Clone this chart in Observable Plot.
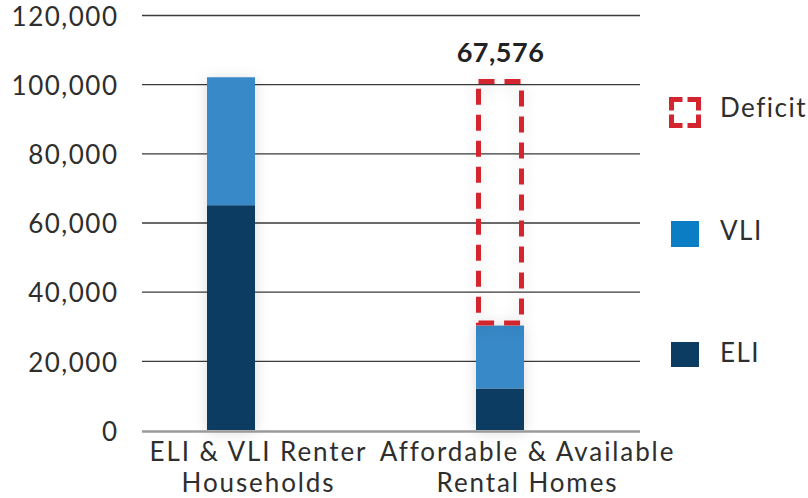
<!DOCTYPE html>
<html>
<head>
<meta charset="utf-8">
<script src="https://cdn.jsdelivr.net/npm/d3@7"></script>
<script src="https://cdn.jsdelivr.net/npm/@observablehq/plot@0.6"></script>
<style>
  html, body { margin: 0; padding: 0; background: #fff; }
  #wrap { position: relative; width: 808px; height: 498px; font-family: Lato, "Noto Sans", sans-serif; }
  .lg { position: absolute; }
  .lgText { position: absolute; font-size: 26px; line-height: 32px; color: #2e2e2e; letter-spacing: 1.5px; white-space: nowrap; }
</style>
</head>
<body>
<div id="wrap"></div>
<script>
// ---- data ----
const categories = ["ELI & VLI Renter\nHouseholds", "Affordable & Available\nRental Homes"];
const groups = ["ELI", "VLI"];
const eliValues = [65000, 12000];
const vliValues = [37000, 18200];
const deficitTop = 101500;
const deficitLabel = "67,576";
const yTicks = [0, 20000, 40000, 60000, 80000, 100000, 120000];
const legendLabels = ["Deficit", "VLI", "ELI"];

// ---- styles ----
const navy = "#0c3c62";
const blue = "#3889c8";
const blueLegend = "#0a7dc4";
const red = "#d4252f";

const rows = categories.flatMap((c, i) => [
  {category: c, group: groups[0], value: eliValues[i]},
  {category: c, group: groups[1], value: vliValues[i]}
]);
const affordTotal = eliValues[1] + vliValues[1];
const deficit = [{category: categories[1], y1: affordTotal, y2: deficitTop}];

const chart = Plot.plot({
  width: 808,
  height: 498,
  marginLeft: 142,
  marginRight: 168,
  marginTop: 15,
  marginBottom: 68,
  style: {fontFamily: "Lato, 'Noto Sans', sans-serif", color: "#2e2e2e", background: "transparent", letterSpacing: "1.5px", overflow: "visible"},
  x: {domain: categories, range: [206, 524], paddingInner: 0.8222, paddingOuter: 0, label: null},
  y: {domain: [0, 120000], label: null},
  color: {domain: groups, range: [navy, blue]},
  marks: [
    Plot.ruleY(yTicks.filter(d => d > 0), {stroke: "#3a3a3a", strokeWidth: 1.3}),
    Plot.barY(rows, {x: "category", y: "value", fill: "group"}),
    Plot.barY(deficit, {x: "category", y1: "y1", y2: "y2", fill: "none", stroke: red, strokeWidth: 5, strokeDasharray: "16,10", inset: 2.5}),
    Plot.ruleY([0], {stroke: "#9a9a9a", strokeWidth: 2.5, dy: 1}),
    Plot.text(deficit, {x: "category", y: "y2", text: () => deficitLabel, dy: -26, fontSize: 27, fontWeight: "bold", fill: "#222", lineAnchor: "middle"}),
    Plot.axisY({ticks: yTicks, tickSize: 0, tickPadding: 24, tickFormat: d3.format(","), fontSize: 26, label: null, dy: 2}),
    Plot.axisX({tickSize: 0, tickPadding: 8, fontSize: 26, lineHeight: 1.2, dx: 27, label: null})
  ]
});

document.getElementById("wrap").appendChild(chart);

// soft shadows around bars
d3.select(chart).selectAll('g[aria-label="bar"]').style("filter", "drop-shadow(0px 2px 7px rgba(0,0,0,0.14))");
d3.select(chart).selectAll('g[aria-label="text"] text').style("letter-spacing", "0.5px");
d3.select(chart).selectAll('g[aria-label="x-axis tick label"] text').style("letter-spacing", "1.9px");

// ---- legend ----
const wrap = d3.select("#wrap");
const lgPos = [
  {swLeft: 669, swTop: 97, swW: 32, swH: 31, textTop: 91},
  {swLeft: 671, swTop: 221, swW: 28, swH: 26, textTop: 214},
  {swLeft: 671, swTop: 342, swW: 28, swH: 25, textTop: 336}
];
legendLabels.forEach((lab, i) => {
  const p = lgPos[i];
  if (i === 0) {
    const s = wrap.append("svg").attr("class", "lg")
      .style("left", p.swLeft + "px").style("top", p.swTop + "px")
      .attr("width", p.swW).attr("height", p.swH);
    const w = p.swW, h = p.swH, t = 2.5, L = 11;
    const path = [
      `M${t},${t + L}V${t}H${t + L}`,
      `M${w - t - L},${t}H${w - t}V${t + L}`,
      `M${w - t},${h - t - L}V${h - t}H${w - t - L}`,
      `M${t + L},${h - t}H${t}V${h - t - L}`
    ].join("");
    s.append("path").attr("d", path).attr("fill", "none").attr("stroke", red).attr("stroke-width", 5);
  } else {
    wrap.append("div").attr("class", "lg")
      .style("left", p.swLeft + "px").style("top", p.swTop + "px")
      .style("width", p.swW + "px").style("height", p.swH + "px")
      .style("background", i === 1 ? blueLegend : navy);
  }
  wrap.append("div").attr("class", "lgText")
    .style("left", "720px").style("top", p.textTop + "px")
    .text(lab);
});
</script>
</body>
</html>
